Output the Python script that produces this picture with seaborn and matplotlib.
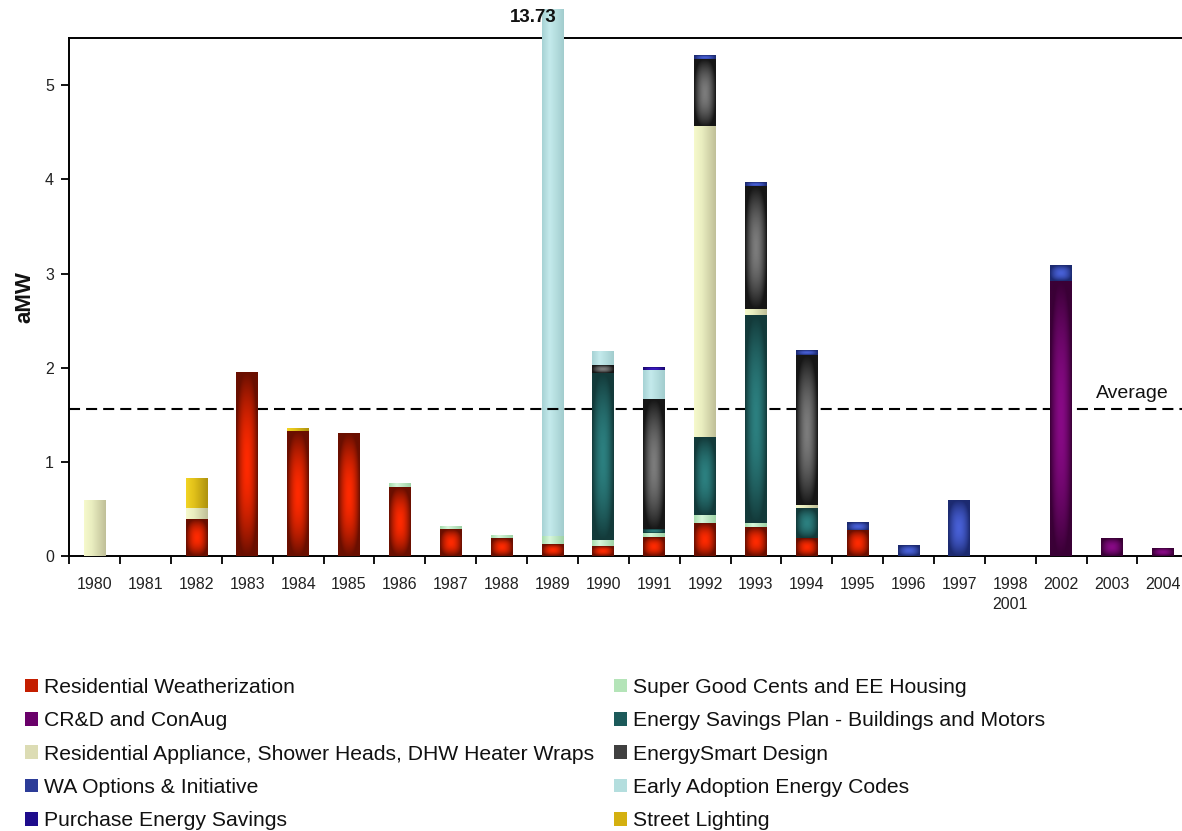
import numpy as np
import pandas as pd
import matplotlib
matplotlib.use("Agg")
import matplotlib.pyplot as plt
import seaborn as sns
from matplotlib.patches import Patch
from matplotlib.transforms import Bbox, TransformedBbox

# ---------------------------------------------------------------- data
years = ["1980", "1981", "1982", "1983", "1984", "1985", "1986", "1987",
         "1988", "1989", "1990", "1991", "1992", "1993", "1994", "1995",
         "1996", "1997", "1998\n2001", "2002", "2003", "2004"]

res_weatherization = [0, 0, 0.39, 1.95, 1.32, 1.30, 0.73, 0.28, 0.19, 0.12, 0.10,
                      0.20, 0.35, 0.30, 0.19, 0.27, 0, 0, 0, 0, 0, 0]
crd_conaug = [0, 0, 0, 0, 0, 0, 0, 0, 0, 0, 0,
              0, 0, 0, 0, 0, 0, 0, 0, 2.92, 0.19, 0.08]
super_good_cents = [0, 0, 0, 0, 0, 0, 0.04, 0.035, 0.03, 0.09, 0.07,
                    0.04, 0.075, 0.05, 0, 0, 0, 0, 0, 0, 0, 0]
energy_savings_plan = [0, 0, 0, 0, 0, 0, 0, 0, 0, 0, 1.77,
                       0.035, 0.835, 2.20, 0.31, 0, 0, 0, 0, 0, 0, 0]
res_appliance = [0.59, 0, 0.11, 0, 0, 0, 0, 0, 0, 0, 0,
                 0, 3.295, 0.07, 0.035, 0, 0, 0, 0, 0, 0, 0]
energysmart_design = [0, 0, 0, 0, 0, 0, 0, 0, 0, 0, 0.08,
                      1.385, 0.715, 1.30, 1.60, 0, 0, 0, 0, 0, 0, 0]
early_adoption_codes = [0, 0, 0, 0, 0, 0, 0, 0, 0, 13.52, 0.15,
                        0.31, 0, 0, 0, 0, 0, 0, 0, 0, 0, 0]
wa_options = [0, 0, 0, 0, 0, 0, 0, 0, 0, 0, 0,
              0, 0.05, 0.05, 0.05, 0.09, 0.11, 0.59, 0, 0.16, 0, 0]
purchase_savings = [0, 0, 0, 0, 0, 0, 0, 0, 0, 0, 0,
                    0.035, 0, 0, 0, 0, 0, 0, 0, 0, 0, 0]
street_lighting = [0, 0, 0.32, 0, 0.035, 0, 0, 0, 0, 0, 0,
                   0, 0, 0, 0, 0, 0, 0, 0, 0, 0, 0]

AVERAGE = 1.56

# stacking order, bottom to top
series = [
    ("Residential Weatherization", res_weatherization),
    ("CR&D and ConAug", crd_conaug),
    ("Super Good Cents and EE Housing", super_good_cents),
    ("Energy Savings Plan - Buildings and Motors", energy_savings_plan),
    ("Residential Appliance, Shower Heads, DHW Heater Wraps", res_appliance),
    ("EnergySmart Design", energysmart_design),
    ("Early Adoption Energy Codes", early_adoption_codes),
    ("WA Options & Initiative", wa_options),
    ("Purchase Energy Savings", purchase_savings),
    ("Street Lighting", street_lighting),
]

# shading: ("radial", edge, centre) or ("linear", left, light, right); plus legend swatch
styles = {
    "Residential Weatherization": (("radial", "#6a0f00", "#ff2a00"), "#c41e00"),
    "CR&D and ConAug": (("radial", "#3a0036", "#880a86"), "#6a006a"),
    "Super Good Cents and EE Housing": (("linear", "#a6dcae", "#d6f6da", "#9ed2a6"), "#b4e4b8"),
    "Energy Savings Plan - Buildings and Motors": (("radial", "#133a3a", "#2c8080"), "#1c5a5a"),
    "Residential Appliance, Shower Heads, DHW Heater Wraps": (("linear", "#f6f9cc", "#eaeec0", "#bfbf98"), "#dcdcb4"),
    "EnergySmart Design": (("radial", "#161616", "#7c7c7c"), "#404040"),
    "Early Adoption Energy Codes": (("linear", "#a6d2d4", "#c4eaec", "#a2cdce"), "#b4dede"),
    "WA Options & Initiative": (("radial", "#1c2a70", "#4860d6"), "#2c3c98"),
    "Purchase Energy Savings": (("radial", "#1a0872", "#3c1ac4"), "#1e0c8c"),
    "Street Lighting": (("linear", "#f2d424", "#e2c21a", "#ae920e"), "#d4b010"),
}


def hex_rgb(c):
    return np.array(matplotlib.colors.to_rgb(c))


def shade_array(style, nx=64, ny=96):
    kind = style[0]
    if kind == "radial":
        edge, mid = hex_rgb(style[1]), hex_rgb(style[2])
        dx = np.abs(np.linspace(-1, 1, nx))[None, :]
        dy = np.abs(np.linspace(-1, 1, ny))[:, None]
        d = np.clip((dx ** 2.6 + dy ** 2.6) ** (1 / 2.6), 0, 1) ** 1.8
        return mid * (1 - d[..., None]) + edge * d[..., None]
    left, light, right = hex_rgb(style[1]), hex_rgb(style[2]), hex_rgb(style[3])
    u = np.linspace(0, 1, nx)
    row = np.empty((nx, 3))
    for ch in range(3):
        row[:, ch] = np.interp(u, [0, 0.35, 1], [left[ch], light[ch], right[ch]])
    return np.repeat(row[None, :, :], 2, axis=0)


# ---------------------------------------------------------------- figure
sns.set_theme(style="white")
plt.rcParams["font.family"] = ["Liberation Sans", "DejaVu Sans"]

W, H = 1182, 831
fig = plt.figure(figsize=(W / 100, H / 100), dpi=100)
ax = fig.add_axes([69.3 / W, 1 - 556 / H, 1119 / W, (556 - 38.3) / H])

values = np.array([s[1] for s in series], dtype=float)
stack = np.cumsum(values, axis=0)
totals = stack[-1]

ylim_top = 5.5
clip_top = 5.8          # tall bar is allowed to rise slightly past the frame
clip_box = TransformedBbox(Bbox([[-0.6, -0.05], [21.6, clip_top]]), ax.transData)

z = 2.0
for i in reversed(range(len(series))):
    name = series[i][0]
    style, swatch = styles[name]
    df = pd.DataFrame({"year": years, "value": stack[i]})
    n0 = len(ax.patches)
    sns.barplot(data=df, x="year", y="value", order=years, color=swatch,
                width=0.43, saturation=1, errorbar=None, linewidth=0, ax=ax)
    for p in ax.patches[n0:]:
        j = int(round(p.get_x() + p.get_width() / 2))
        bottom = stack[i - 1][j] if i > 0 else 0.0
        top = stack[i][j]
        p.set_zorder(z)
        p.set_clip_box(clip_box)
        if top - bottom > 1e-9:
            img = ax.imshow(shade_array(style), origin="lower", aspect="auto",
                            interpolation="bilinear",
                            extent=(p.get_x(), p.get_x() + p.get_width(),
                                    bottom, min(top, clip_top)),
                            zorder=z + 0.5)
            img.set_clip_on(False)
        z += 1.0

ax.set_xlim(-0.5, len(years) - 0.5)
ax.set_ylim(0, ylim_top)

# average reference line
ax.axhline(AVERAGE, color="black", lw=1.5, ls=(0, (5.3, 2.9)), zorder=100)
ax.text(20.39, 1.73, "Average", ha="center", va="center", fontsize=14, color="#111111", zorder=101)

# value of the off-scale bar
j_max = int(np.argmax(totals))
ax.text(j_max - 0.37, 5.72, f"{totals[j_max]:.2f}", ha="center", va="center",
        fontsize=13.5, fontweight="bold", color="#111111", clip_on=False, zorder=101)

# axes styling
for side in ("left", "bottom", "top"):
    ax.spines[side].set_color("black")
    ax.spines[side].set_linewidth(1.4)
ax.spines["right"].set_visible(False)

ax.set_yticks(range(6))
ax.set_yticklabels([str(v) for v in range(6)])
ax.tick_params(axis="y", left=True, length=6, width=1.3, color="black", pad=5,
               labelsize=11.5, labelcolor="#222222")

ax.set_xticks(np.arange(len(years)))
ax.set_xticklabels(years, linespacing=1.45)
ax.tick_params(axis="x", which="major", bottom=True, length=0, pad=15,
               labelsize=11.5, labelcolor="#222222")
ax.set_xticks(np.arange(-0.5, len(years)), minor=True)
ax.tick_params(axis="x", which="minor", bottom=True, length=6, width=1.3,
               color="black", direction="out")

ax.set_xlabel("")
ax.set_ylabel("aMW", fontsize=16, fontweight="bold", color="#111111")
ax.yaxis.set_label_coords((35 - 69.3) / 1119, 0.5)

# legend in two columns
handles = [Patch(facecolor=styles[n][1], edgecolor="none", label=n) for n, _ in series]
legend_order = [
    "Residential Weatherization", "CR&D and ConAug",
    "Residential Appliance, Shower Heads, DHW Heater Wraps",
    "WA Options & Initiative", "Purchase Energy Savings",
    "Super Good Cents and EE Housing", "Energy Savings Plan - Buildings and Motors",
    "EnergySmart Design", "Early Adoption Energy Codes", "Street Lighting",
]
hmap = {h.get_label(): h for h in handles}
common = dict(frameon=False, fontsize=15.2, handlelength=0.62, handleheight=0.62,
              handletextpad=0.3, labelspacing=0.68, borderpad=0, borderaxespad=0,
              loc="upper left", labelcolor="#111111")
leg1 = fig.legend(handles=[hmap[n] for n in legend_order[:5]],
                  bbox_to_anchor=(25 / W, 1 - 678 / H), **common)
leg2 = fig.legend(handles=[hmap[n] for n in legend_order[5:]],
                  bbox_to_anchor=(614 / W, 1 - 678 / H), **common)

fig.savefig("out.png", dpi=100)
